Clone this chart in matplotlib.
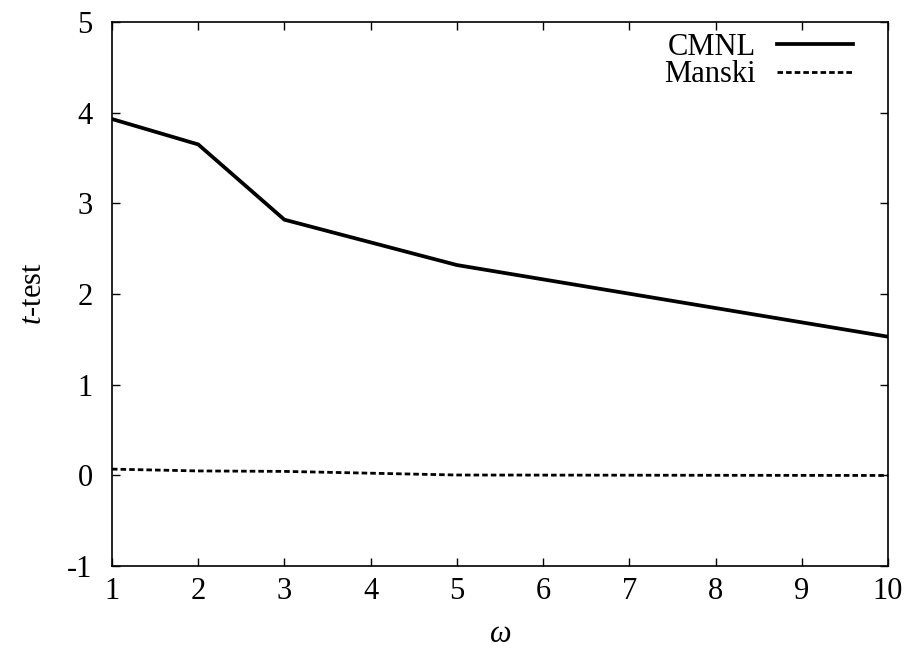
import matplotlib
matplotlib.use("Agg")
import matplotlib.pyplot as plt

omega = [1, 2, 3, 5, 10]
cmnl = [3.93, 3.65, 2.82, 2.32, 1.53]
manski = [0.07, 0.05, 0.045, 0.005, 0.0]
xticks = [1, 2, 3, 4, 5, 6, 7, 8, 9, 10]
yticks = [-1, 0, 1, 2, 3, 4, 5]

plt.rcParams['font.family'] = ['Liberation Serif', 'DejaVu Serif']
plt.rcParams['mathtext.fontset'] = 'custom'
plt.rcParams['mathtext.rm'] = 'Liberation Serif'
plt.rcParams['mathtext.it'] = 'Liberation Serif:italic'

fig = plt.figure(figsize=(9.14, 6.54), dpi=100)
ax = fig.add_axes([0.1225, 0.1343, 0.9716 - 0.1225, 0.9664 - 0.1343])

ax.plot(omega, cmnl, color='black', lw=2.7, label='CMNL', solid_joinstyle='miter')
ax.plot(omega, manski, color='black', lw=2.0, linestyle=(0, (2.0, 1.1)), label='Manski')

ax.set_xlim(1, 10)
ax.set_ylim(-1, 5)
ax.set_xticks(xticks)
ax.set_yticks(yticks)
ax.set_xticklabels([str(v) for v in xticks])
ax.set_yticklabels([str(v) for v in yticks])
ax.tick_params(direction='in', length=6, width=1, top=True, right=True,
               labelsize=22)
ax.tick_params(axis='x', pad=8)
ax.tick_params(axis='y', pad=14)
for s in ax.spines.values():
    s.set_linewidth(1.2)

ax.set_xlabel(r'$\omega$', fontsize=22, labelpad=10)
ax.set_ylabel(r'$t$-test', fontsize=22, labelpad=14)

leg = ax.legend(loc='upper right', bbox_to_anchor=(0.979, 1.014), frameon=False,
                markerfirst=False, fontsize=22, handlelength=2.5,
                handletextpad=0.7, labelspacing=-0.04, borderaxespad=0.2)

fig.savefig('out.png', dpi=100)
